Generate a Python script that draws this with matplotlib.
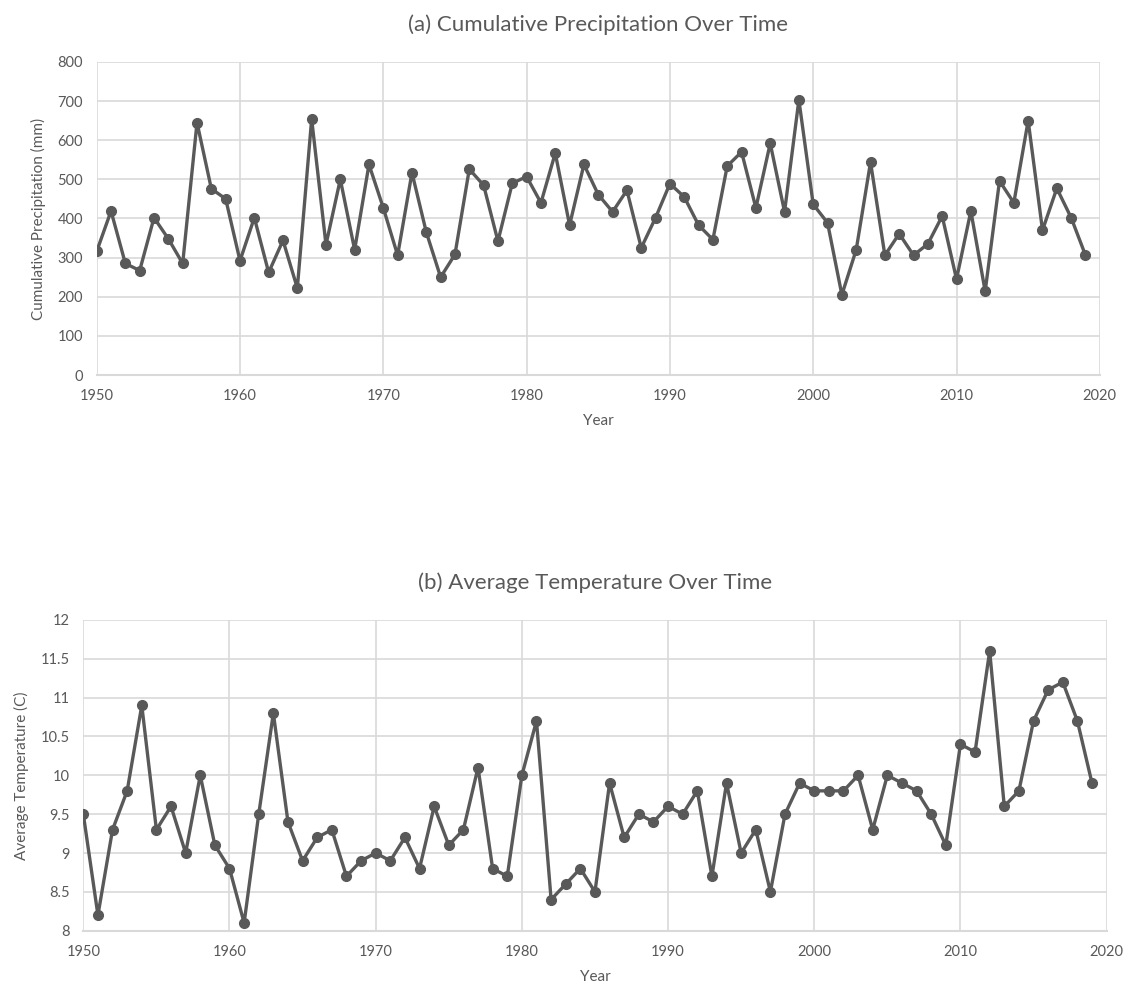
import numpy as np
import matplotlib
matplotlib.use("Agg")
from matplotlib import pyplot as plt

# === DATA ===
years = np.arange(1950, 2020)

precip_mm = [
    316, 419, 285, 267, 402, 348, 285, 645, 476, 450,
    292, 402, 262, 344, 222, 654, 333, 500, 320, 538,
    427, 306, 517, 365, 250, 308, 526, 485, 342, 490,
    507, 440, 567, 383, 538, 461, 417, 472, 325, 402,
    489, 455, 383, 346, 534, 570, 427, 592, 417, 703,
    436, 389, 205, 320, 544, 306, 361, 306, 335, 406,
    245, 419, 214, 496, 440, 650, 370, 477, 402, 306,
]

avg_temp_c = [
    9.5, 8.2, 9.3, 9.8, 10.9, 9.3, 9.6, 9.0, 10.0, 9.1,
    8.8, 8.1, 9.5, 10.8, 9.4, 8.9, 9.2, 9.3, 8.7, 8.9,
    9.0, 8.9, 9.2, 8.8, 9.6, 9.1, 9.3, 10.1, 8.8, 8.7,
    10.0, 10.7, 8.4, 8.6, 8.8, 8.5, 9.9, 9.2, 9.5, 9.4,
    9.6, 9.5, 9.8, 8.7, 9.9, 9.0, 9.3, 8.5, 9.5, 9.9,
    9.8, 9.8, 9.8, 10.0, 9.3, 10.0, 9.9, 9.8, 9.5, 9.1,
    10.4, 10.3, 11.6, 9.6, 9.8, 10.7, 11.1, 11.2, 10.7, 9.9,
]

year_ticks = [1950, 1960, 1970, 1980, 1990, 2000, 2010, 2020]
precip_ticks = [0, 100, 200, 300, 400, 500, 600, 700, 800]
temp_ticks = [8, 8.5, 9, 9.5, 10, 10.5, 11, 11.5, 12]
temp_tick_labels = ["8", "8.5", "9", "9.5", "10", "10.5", "11", "11.5", "12"]

# === STYLE ===
plt.rcParams['font.family'] = ['Lato', 'DejaVu Sans']
TEXT = '#595959'
LINE = '#595959'
GRID = '#d9d9d9'


def style_axis(ax, yticks, ylabels, ylabel, title):
    ax.set_xlim(1950, 2020)
    ax.set_ylim(yticks[0], yticks[-1])
    ax.set_xticks(year_ticks)
    ax.set_yticks(yticks)
    ax.set_yticklabels(ylabels)
    ax.grid(True, color=GRID, linewidth=1.2)
    ax.set_axisbelow(True)
    for side in ('top', 'right', 'left'):
        ax.spines[side].set_visible(False)
    ax.spines['bottom'].set_color(GRID)
    ax.spines['bottom'].set_linewidth(1.5)
    ax.tick_params(length=0, colors=TEXT, labelsize=10.5, pad=10)
    ax.set_xlabel('Year', color=TEXT, fontsize=11, labelpad=8)
    ax.set_ylabel(ylabel, color=TEXT, fontsize=11, labelpad=8)
    ax.set_title(title, color=TEXT, fontsize=16, pad=22)


fig = plt.figure(figsize=(11.35, 9.94), dpi=100)

ax1 = fig.add_axes([0.0852, 0.6227, 0.8838, 0.315])
ax1.plot(years, precip_mm, color=LINE, linewidth=2.4, marker='o', markersize=7)
style_axis(ax1, precip_ticks, [str(v) for v in precip_ticks],
           'Cumulative Precipitation (mm)', '(a) Cumulative Precipitation Over Time')

ax2 = fig.add_axes([0.0734, 0.0637, 0.9016, 0.3126])
ax2.plot(years, avg_temp_c, color=LINE, linewidth=2.4, marker='o', markersize=7)
style_axis(ax2, temp_ticks, temp_tick_labels,
           'Average Temperature (C)', '(b) Average Temperature Over Time')

fig.savefig('out.png', dpi=100, facecolor='white')
